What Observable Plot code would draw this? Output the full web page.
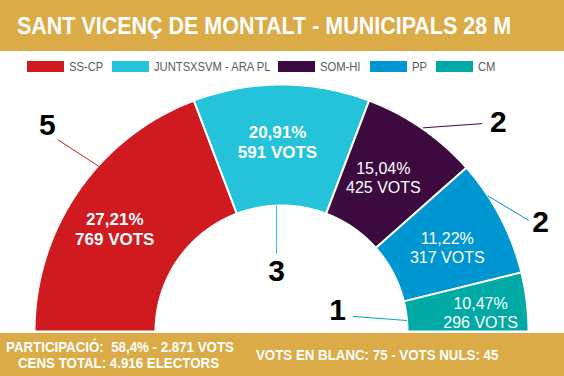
<!DOCTYPE html>
<html><head><meta charset="utf-8">
<script src="https://cdn.jsdelivr.net/npm/d3@7"></script>
<script src="https://cdn.jsdelivr.net/npm/@observablehq/plot@0.6"></script>
<style>
body{margin:0;width:564px;height:376px;overflow:hidden;background:#fff;font-family:"Liberation Sans",Arial,sans-serif;position:relative}
.band{position:absolute;left:0;width:564px;background:#DBAB47;color:#fff;font-weight:bold}
#title{top:0;height:51px}
#title span{position:absolute;left:17px;top:12px;font-size:24px;line-height:28px;white-space:nowrap;transform-origin:0 50%;transform:scaleX(0.895)}
#legend{position:absolute;top:58px;left:0;width:564px;height:18px}
.item{position:absolute;top:0;height:18px}
.sw{position:absolute;top:3px;width:37px;height:11px}
.lt{position:absolute;top:0;font-size:13.5px;line-height:18px;color:#5a5a5a;white-space:nowrap;transform-origin:0 50%;transform:scaleX(0.83)}
#chart{position:absolute;top:78px;left:0}
#footer{top:333px;height:43px}
#footer .t{position:absolute;font-size:14px;line-height:16px;white-space:pre;transform-origin:0 50%;transform:scaleX(0.95)}
</style></head>
<body>
<div id="title" class="band"><span></span></div>
<div id="legend"></div>
<div id="chart"></div>
<div id="footer" class="band"></div>
<script>
// ---- data ----
const title = "SANT VICENÇ DE MONTALT - MUNICIPALS 28 M";
const parties = ["SS-CP", "JUNTSXSVM - ARA PL", "SOM-HI", "PP", "CM"];
const seats = [5, 3, 2, 2, 1];
const percents = ["27,21%", "20,91%", "15,04%", "11,22%", "10,47%"];
const votes = [769, 591, 425, 317, 296];
const colors = ["#CF1A20", "#24C3DA", "#3D0A3F", "#0096D1", "#00A9A3"];
const footerLeft = ["PARTICIPACIÓ:  58,4% - 2.871 VOTS", "CENS TOTAL: 4.916 ELECTORS"];
const footerRight = "VOTS EN BLANC: 75 - VOTS NULS: 45";

// ---- layout ----
const R = 247, R0 = 126;
const legendX = [27, 112, 278, 370, 436];
// label placement (angle in degrees, radius) for value labels inside slices
const valuePlace = [[148.3, 196], [91.2, 190], [56.6, 185], [27, 186], [5.5, 200]];
// seat call-outs: leader start, leader end, number position (deg, radius)
const seatPlace = [
  [[137.8, 244], [139.4, 295], [138.6, 312]],
  [[92.3, 126], [93.7, 78], [94.8, 60]],
  [[55.2, 248], [46.0, 289], [43.9, 301]],
  [[33.3, 247], [24.2, 271], [22.8, 281]],
  [[5.0, 126], [11.9, 73], [20.6, 60]]
];
const polar = ([deg, r]) => [r * Math.cos(deg * Math.PI / 180), r * Math.sin(deg * Math.PI / 180)];

document.querySelector("#title span").textContent = title;

const leg = d3.select("#legend");
parties.forEach((p, i) => {
  const it = leg.append("div").attr("class", "item").style("left", legendX[i] + "px");
  it.append("div").attr("class", "sw").style("left", "0px").style("background", colors[i]);
  it.append("div").attr("class", "lt").style("left", "42px").text(p);
});

const ft = d3.select("#footer");
ft.append("div").attr("class", "t").style("left", "6px").style("top", "6px").text(footerLeft[0]);
ft.append("div").attr("class", "t").style("left", "18px").style("top", "22px").text(footerLeft[1]);
ft.append("div").attr("class", "t").style("left", "256px").style("top", "14px").text(footerRight);

// slices proportional to seats
const total = d3.sum(seats);
let acc = 0;
const slices = parties.map((p, i) => {
  const a0 = Math.PI * (1 - acc / total);
  acc += seats[i];
  const a1 = Math.PI * (1 - acc / total);
  return {party: p, i, a0, a1};
});
const ring = [];
for (const s of slices) {
  const n = 90, pts = [];
  for (let k = 0; k <= n; k++) { const a = s.a0 + (s.a1 - s.a0) * k / n; pts.push({party: s.party, x: R * Math.cos(a), y: R * Math.sin(a)}); }
  for (let k = n; k >= 0; k--) { const a = s.a0 + (s.a1 - s.a0) * k / n; pts.push({party: s.party, x: R0 * Math.cos(a), y: R0 * Math.sin(a)}); }
  pts.push(pts[0]);
  ring.push(...pts);
}

const labels = parties.map((p, i) => {
  const [x, y] = polar(valuePlace[i]);
  return {party: p, i, x, y, text: percents[i] + "\n" + votes[i] + " VOTS"};
});
const callouts = parties.map((p, i) => {
  const [x1, y1] = polar(seatPlace[i][0]);
  const [x2, y2] = polar(seatPlace[i][1]);
  const [x, y] = polar(seatPlace[i][2]);
  return {party: p, x1, y1, x2, y2, x, y, text: String(seats[i])};
});

const chart = Plot.plot({
  width: 564, height: 255, margin: 0,
  style: {fontFamily: "Liberation Sans, Arial, sans-serif", background: "transparent"},
  x: {domain: [-281, 283], range: [0, 564], axis: null},
  y: {domain: [-2, 253], range: [255, 0], axis: null},
  color: {domain: parties, range: colors},
  marks: [
    Plot.line(ring, {x: "x", y: "y", z: "party", fill: "party", stroke: "white", strokeWidth: 2, curve: "linear"}),
    Plot.link(callouts, {x1: "x1", y1: "y1", x2: "x2", y2: "y2", stroke: "party", strokeWidth: 1}),
    Plot.text(callouts, {x: "x", y: "y", text: "text", fill: "black", fontSize: 30, fontWeight: "bold"}),
    Plot.text(labels.filter(d => d.i < 2), {x: "x", y: "y", text: "text", fill: "white", fontSize: 17, fontWeight: "bold", lineHeight: 1.18}),
    Plot.text(labels.filter(d => d.i >= 2), {x: "x", y: "y", text: "text", fill: "white", fontSize: 16, lineHeight: 1.2})
  ]
});
document.getElementById("chart").appendChild(chart);
</script>
</body></html>
